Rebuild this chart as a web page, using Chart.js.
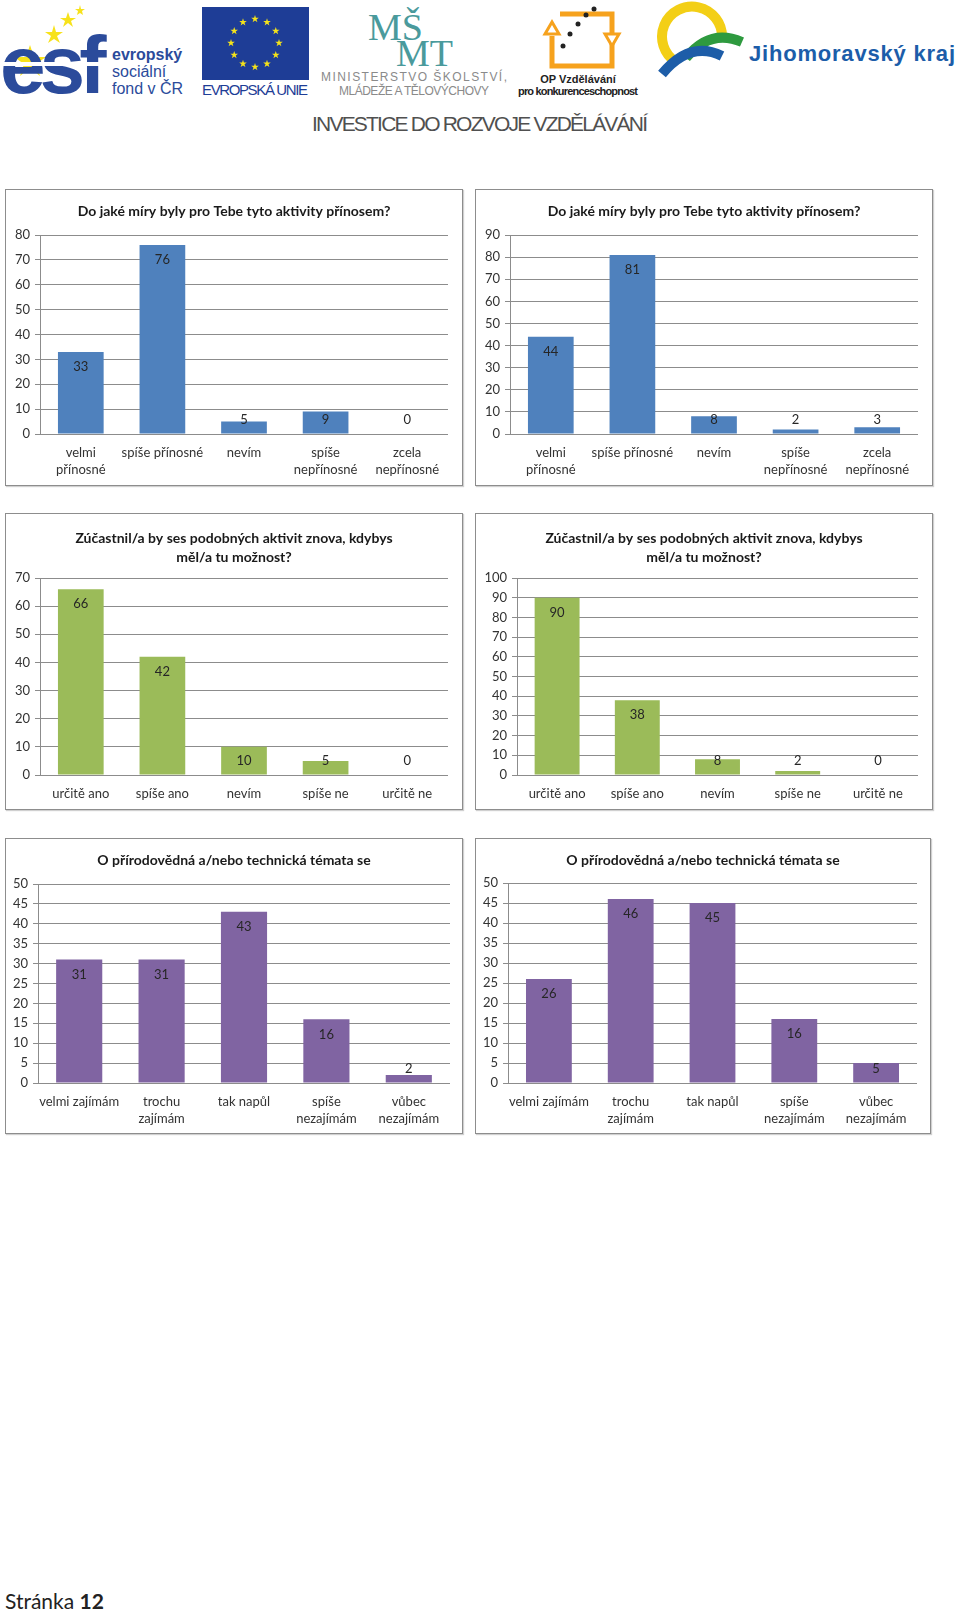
<!DOCTYPE html>
<html lang="cs">
<head>
<meta charset="utf-8">
<title>Stránka 12</title>
<script src="https://cdn.jsdelivr.net/npm/chart.js"></script>
<style>
  body { margin: 0; background: #fff; }
  #page { position: relative; width: 960px; height: 1613px; overflow: hidden; font-family: Lato, "Open Sans", sans-serif; }
  .panel { position: absolute; border: 1px solid #8d8d8d; box-shadow: 1px 1px 1px #d0d0d0; background: #fff; }
  .panel canvas { display: block; }
  #header { position: absolute; left: 0; top: 0; }
  #footer { position: absolute; left: 5px; top: 1588px; font-size: 21px; color: #222; font-family: Lato, sans-serif; }
</style>
</head>
<body>
<div id="page">
  <svg id="header" width="960" height="140" xmlns="http://www.w3.org/2000/svg">
    <!-- esf -->
    <g fill="#f7e21b">
      <polygon points="30,55 34,67 46,67 36,74 40,86 30,78 20,86 24,74 14,67 26,67" transform="translate(0,-10)"/>
      <polygon points="54,25 56,32 63,32 57,36 60,43 54,39 48,43 51,36 45,32 52,32"/>
      <polygon points="68,12 70,18 76,18 71,21 73,27 68,23 63,27 65,21 60,18 66,18"/>
      <polygon points="80,5 81,9 85,9 82,11 83,15 80,13 77,15 78,11 75,9 79,9"/>
    </g>
    <text x="0" y="93" font-family="Liberation Sans, Arial, sans-serif" font-weight="bold" font-size="82" fill="#2b4b9b" letter-spacing="-6">esf</text>
    <rect x="0" y="62" width="108" height="4" fill="#fff"/>
    <g font-family="Liberation Sans, Arial, sans-serif" fill="#2b4b9b" font-size="16">
      <text x="112" y="60" font-weight="bold">evropský</text>
      <text x="112" y="77">sociální</text>
      <text x="112" y="94">fond v ČR</text>
    </g>
    <!-- EU -->
    <rect x="202" y="7" width="107" height="73" fill="#1e3d96"/>
    <g fill="#f5e31a" id="eustars"></g>
    <text x="255" y="95" text-anchor="middle" font-family="Liberation Sans Narrow, Liberation Sans, sans-serif" font-size="15" fill="#1e3d96" textLength="106">EVROPSKÁ UNIE</text>
    <!-- MSMT -->
    <g font-family="Liberation Serif, DejaVu Serif, serif" fill="#4a9a9c" font-size="38">
      <text x="368" y="40">MŠ</text>
      <text x="396" y="66">MT</text>
    </g>
    <g font-family="Liberation Sans, sans-serif" fill="#8a8a8a" font-size="12" text-anchor="middle">
      <text x="414" y="81" textLength="186">MINISTERSTVO ŠKOLSTVÍ,</text>
      <text x="414" y="95" textLength="150">MLÁDEŽE A TĚLOVÝCHOVY</text>
    </g>
    <!-- OP -->
    <path d="M560,14 L612,14 L612,66 L552,66 L552,36" fill="none" stroke="#f6a21d" stroke-width="5"/>
    <polygon points="545,34 559,34 552,22" fill="#fff" stroke="#f6a21d" stroke-width="3"/>
    <polygon points="605,34 619,34 612,46" fill="#fff" stroke="#f6a21d" stroke-width="3"/>
    <g fill="#222"><circle cx="594" cy="9" r="2.5"/><circle cx="586" cy="15" r="2.5"/><circle cx="578" cy="24" r="2.5"/><circle cx="570" cy="34" r="2.5"/><circle cx="563" cy="46" r="2.5"/></g>
    <g font-family="Liberation Sans Narrow, Liberation Sans, sans-serif" font-weight="bold" fill="#222" font-size="11" text-anchor="middle">
      <text x="578" y="83">OP Vzdělávání</text>
      <text x="578" y="95" textLength="120">pro konkurenceschopnost</text>
    </g>
    <!-- Jihomoravsky kraj -->
    <path d="M676,62 A30,30 0 1 1 722,38" fill="none" stroke="#f3cf16" stroke-width="10"/>
    <path d="M686,58 Q710,28 742,42" fill="none" stroke="#2e9a3f" stroke-width="10"/>
    <path d="M662,74 Q690,40 722,56" fill="none" stroke="#1d5da8" stroke-width="10"/>
    <text x="749" y="61" font-family="Liberation Sans, Arial, sans-serif" font-weight="bold" font-size="22" fill="#1c5da9" textLength="206">Jihomoravský kraj</text>
    <!-- slogan -->
    <text x="480" y="131" text-anchor="middle" font-family="Liberation Sans Narrow, Liberation Sans, sans-serif" font-size="21" fill="#505050" textLength="336">INVESTICE DO ROZVOJE VZDĚLÁVÁNÍ</text>
  </svg>
  <div id="charts"></div>
  <div id="footer">Stránka <b>12</b></div>
</div>
<script>
// chart titles
const benefitTitle = ['Do jaké míry byly pro Tebe tyto aktivity přínosem?'];
const againTitle = ['Zúčastnil/a by ses podobných aktivit znova, kdybys', 'měl/a tu možnost?'];
const interestTitle = ['O přírodovědná a/nebo technická témata se'];

// categories
const benefitLabels = [['velmi', 'přínosné'], 'spíše přínosné', 'nevím', ['spíše', 'nepřínosné'], ['zcela', 'nepřínosné']];
const againLabels = ['určitě ano', 'spíše ano', 'nevím', 'spíše ne', 'určitě ne'];
const interestLabels = ['velmi zajímám', ['trochu', 'zajímám'], 'tak napůl', ['spíše', 'nezajímám'], ['vůbec', 'nezajímám']];

// values (left column / right column)
const benefitLeft = [33, 76, 5, 9, 0];
const benefitRight = [44, 81, 8, 2, 3];
const againLeft = [66, 42, 10, 5, 0];
const againRight = [90, 38, 8, 2, 0];
const interestLeft = [31, 31, 43, 16, 2];
const interestRight = [26, 46, 45, 16, 5];

// y axis ranges
const benefitLeftAxis = [80, 10];
const benefitRightAxis = [90, 10];
const againLeftAxis = [70, 10];
const againRightAxis = [100, 10];
const interestAxis = [50, 5];

const BLUE = '#4f81bd', GREEN = '#9bbb59', PURPLE = '#8064a2';
const GRID = '#8c8c8c';
const FONT = 'Lato, "Open Sans", sans-serif';

// EU flag stars
(function () {
  const g = document.getElementById('eustars');
  for (let i = 0; i < 12; i++) {
    const a = i * Math.PI / 6;
    const cx = 255 + 24 * Math.cos(a), cy = 43 + 24 * Math.sin(a);
    let pts = [];
    for (let k = 0; k < 10; k++) {
      const r = k % 2 ? 1.6 : 4;
      const b = -Math.PI / 2 + k * Math.PI / 5;
      pts.push((cx + r * Math.cos(b)).toFixed(1) + ',' + (cy + r * Math.sin(b)).toFixed(1));
    }
    const p = document.createElementNS('http://www.w3.org/2000/svg', 'polygon');
    p.setAttribute('points', pts.join(' '));
    g.appendChild(p);
  }
})();

const panels = [
  { left: 5, top: 189, w: 458, h: 297, plot: [35, 46, 443, 245], title: benefitTitle, titleY: [21], labels: benefitLabels, values: benefitLeft, axis: benefitLeftAxis, color: BLUE },
  { left: 475, top: 189, w: 458, h: 297, plot: [35, 46, 443, 245], title: benefitTitle, titleY: [21], labels: benefitLabels, values: benefitRight, axis: benefitRightAxis, color: BLUE },
  { left: 5, top: 513, w: 458, h: 297, plot: [35, 65, 443, 262], title: againTitle, titleY: [24, 43], labels: againLabels, values: againLeft, axis: againLeftAxis, color: GREEN },
  { left: 475, top: 513, w: 458, h: 297, plot: [42, 65, 443, 262], title: againTitle, titleY: [24, 43], labels: againLabels, values: againRight, axis: againRightAxis, color: GREEN },
  { left: 5, top: 838, w: 458, h: 296, plot: [33, 46, 445, 245], title: interestTitle, titleY: [21], labels: interestLabels, values: interestLeft, axis: interestAxis, color: PURPLE },
  { left: 475, top: 838, w: 456, h: 296, plot: [33, 45, 442, 245], title: interestTitle, titleY: [21], labels: interestLabels, values: interestRight, axis: interestAxis, color: PURPLE }
];

const titlePlugin = {
  id: 'panelTitle',
  afterDraw(chart, args, opts) {
    const ctx = chart.ctx;
    ctx.save();
    ctx.font = 'bold 14px ' + FONT;
    ctx.fillStyle = '#1a1a1a';
    ctx.textAlign = 'center';
    ctx.textBaseline = 'middle';
    opts.lines.forEach((line, i) => ctx.fillText(line, chart.width / 2, opts.ys[i]));
    ctx.restore();
  }
};

// value labels at the inside end of each bar (Excel style)
const valuePlugin = {
  id: 'valueLabels',
  afterDatasetsDraw(chart) {
    const ctx = chart.ctx;
    const meta = chart.getDatasetMeta(0);
    const data = chart.data.datasets[0].data;
    ctx.save();
    ctx.font = '13px ' + FONT;
    ctx.fillStyle = '#262626';
    ctx.textAlign = 'center';
    ctx.textBaseline = 'middle';
    meta.data.forEach((bar, i) => {
      const y = Math.min(bar.y + 15, bar.base - 14);
      ctx.fillText(String(data[i]), bar.x, y);
    });
    ctx.restore();
  }
};

const holder = document.getElementById('charts');
panels.forEach(p => {
  const div = document.createElement('div');
  div.className = 'panel';
  div.style.left = p.left + 'px';
  div.style.top = p.top + 'px';
  const W = p.w - 2, H = p.h - 2;
  div.style.width = W + 'px';
  div.style.height = H + 'px';
  const canvas = document.createElement('canvas');
  canvas.width = W;
  canvas.height = H;
  div.appendChild(canvas);
  holder.appendChild(div);

  const [pl, pt, pr, pb] = p.plot.map(v => v - 1);
  new Chart(canvas, {
    type: 'bar',
    data: {
      labels: p.labels,
      datasets: [{ data: p.values, backgroundColor: p.color, barPercentage: 0.56, categoryPercentage: 1 }]
    },
    options: {
      responsive: false,
      animation: false,
      layout: { padding: { left: 0, top: pt, right: W - pr, bottom: 0 } },
      plugins: {
        legend: { display: false },
        tooltip: { enabled: false },
        panelTitle: { lines: p.title, ys: p.titleY }
      },
      scales: {
        x: {
          grid: { display: false, drawTicks: false },
          border: { display: false },
          ticks: { font: { family: FONT, size: 13, lineHeight: 1.25 }, color: '#333', padding: 11, maxRotation: 0, autoSkip: false },
          afterFit: s => { s.height = H - pb; }
        },
        y: {
          min: 0,
          max: p.axis[0],
          ticks: { stepSize: p.axis[1], font: { family: FONT, size: 13 }, color: '#333', padding: 5 },
          grid: { color: GRID, tickLength: 5 },
          border: { color: GRID },
          afterFit: s => { s.width = pl; }
        }
      }
    },
    plugins: [titlePlugin, valuePlugin]
  });
});
</script>
</body>
</html>
